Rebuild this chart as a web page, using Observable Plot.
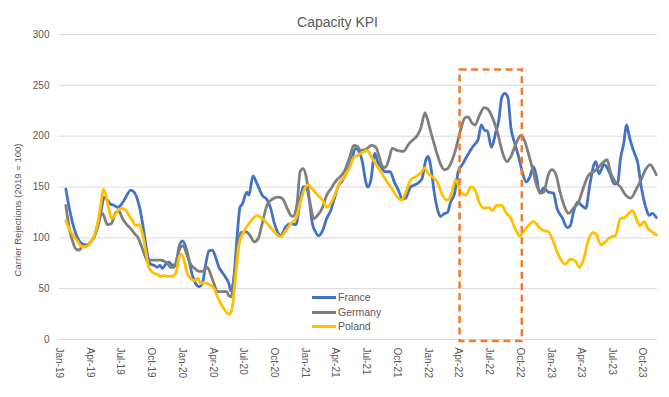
<!DOCTYPE html>
<html>
<head>
<meta charset="utf-8">
<script src="https://cdn.jsdelivr.net/npm/d3@7"></script>
<script src="https://cdn.jsdelivr.net/npm/@observablehq/plot@0.6"></script>
<style>
  html, body { margin: 0; padding: 0; background: #fff; }
  #wrap { position: relative; width: 669px; height: 397px; font-family: "Liberation Sans", Arial, sans-serif; }
  #legend { position: absolute; left: 312px; top: 290px; font-size: 10.5px; color: #595959; }
  #legend .row { position: absolute; left: 0; white-space: nowrap; height: 14px; line-height: 14px; }
  #legend .sw { position: absolute; left: 0; top: 6px; width: 24px; height: 3px; }
  #legend .lab { position: absolute; left: 26px; top: 0; }
  #ylab { position: absolute; left: 17px; top: 210px; width: 0; height: 0; }
  #ylab span { position: absolute; left: 0; top: 0; transform: translate(-50%, -50%) rotate(-90deg); white-space: nowrap; font-size: 9.5px; color: #595959; }
</style>
</head>
<body>
<div id="wrap"></div>
<script>
// ---- data (month offset from Jan-2019, value) ----
const tickLabels = ["Jan-19","Apr-19","Jul-19","Oct-19","Jan-20","Apr-20","Jul-20","Oct-20","Jan-21","Apr-21","Jul-21","Oct-21","Jan-22","Apr-22","Jul-22","Oct-22","Jan-23","Apr-23","Jul-23","Oct-23"];
const yTicks = [0, 50, 100, 150, 200, 250, 300];
const seriesNames = ["France", "Germany", "Poland"];
const seriesColors = ["#4472C4", "#7F7F7F", "#FFC000"];

const france = [[0.62,148],[0.94,130],[1.27,115],[1.6,104],[1.92,97],[2.25,94],[2.73,93],[3.06,96],[3.38,101],[3.71,112],[4.03,125],[4.36,140],[4.68,137],[5.01,133],[5.33,132],[5.66,130],[5.98,132],[6.31,137],[6.64,143],[6.96,147],[7.29,145],[7.61,138],[7.87,128],[8.1,115],[8.42,94],[8.68,79],[8.91,74],[9.24,73],[9.56,71],[9.82,73],[10.05,70],[10.38,74],[10.7,76],[11.03,73],[11.35,74],[11.68,91],[12.0,97],[12.33,91],[12.65,78],[12.98,63],[13.3,55],[13.63,52],[13.95,55],[14.28,74],[14.6,87],[14.93,88],[15.25,81],[15.58,71],[15.9,66],[16.23,61],[16.55,55],[16.72,48],[16.98,56],[17.37,104],[17.63,130],
  [17.85,133],[18.3,145],[18.5,142],[18.9,161],[19.3,153],[19.8,142],[20.3,137],[20.6,130],[21.0,114],[21.4,104],[21.6,102],[22.1,111],[22.6,114],[23.1,113],[23.5,137],[23.8,150],[24.1,150],[24.4,137],[24.7,114],[25.0,106],[25.3,102],[25.7,107],[26.1,119],[26.5,127],[26.8,137],[27.2,150],[27.6,156],[28.0,163],[28.6,179],[28.9,188],[29.2,186],[29.6,174],[29.9,156],[30.1,150],[30.4,156],[30.8,183],[31.1,174],[31.4,170],[31.8,165],[32.3,165],[32.7,155],[33.1,147],
  [33.5,138],[33.8,139],[34.3,150],[34.9,153],[35.4,158],[35.8,177],[36.0,180],[36.3,168],[36.6,145],[36.9,129],[37.2,121],[37.6,124],[37.9,125],[38.2,135],[38.6,144],[38.95,165],[39.4,173],[39.9,182],[40.4,190],[40.9,197],[41.2,211],[41.5,206],[41.8,205],[42.2,189],[42.6,203],[42.9,215],[43.2,238],[43.5,242],[43.8,238],[44.1,208],[44.5,192],[44.9,178],[45.2,165],[45.6,155],[45.95,160],[46.3,170],[46.6,160],[46.9,144],[47.3,149],[47.75,145],[48.25,144],[48.6,129],[49.1,120],[49.6,110],[49.9,112],[50.2,125],[50.6,135],[51.0,132],[51.4,129],[51.8,152],[52.2,172],[52.4,175],[52.7,163],[53.2,172],[53.7,165],[54.2,153],[54.5,153],[54.8,178],[55.1,192],[55.4,211],[55.7,198],[56.1,185],[56.5,173],[56.8,152],[57.3,129],[57.6,122],[57.9,124],[58.3,120]];

const germany = [[0.62,132],[0.94,110],[1.27,97],[1.6,89],[1.92,88],[2.25,92],[2.73,93],[3.06,96],[3.38,101],[3.71,110],[4.03,122],[4.2,124],[4.68,113],[5.07,114],[5.5,125],[5.82,126],[6.15,119],[6.57,113],[6.96,109],[7.35,104],[7.68,100],[8.0,92],[8.33,83],[8.65,76],[8.91,78],[9.24,78],[9.56,78],[9.89,78],[10.21,77],[10.54,75],[10.86,71],[11.19,71],[11.51,81],[11.84,91],[12.1,92],[12.42,84],[12.81,74],[13.2,70],[13.63,67],[14.05,67],[14.44,71],[14.77,64],[15.09,55],[15.42,47],[15.9,47],[16.33,47],[16.55,43],[16.78,42],[17.04,61],[17.43,94],
  [17.7,105],[18.2,106],[18.7,101],[19.0,96],[19.4,99],[19.8,114],[20.3,133],[20.8,138],[21.3,140],[21.75,139],[22.2,130],[22.6,122],[22.8,121],[23.2,133],[23.5,165],[23.8,168],[24.1,160],[24.5,133],[24.85,119],[25.2,122],[25.7,130],[26.1,142],[26.5,148],[27.0,156],[27.4,160],[27.8,165],[28.3,178],[28.75,191],[29.1,190],[29.4,186],[29.9,187],[30.5,191],[30.9,189],[31.2,181],[31.5,171],[31.8,169],[32.2,178],[32.5,188],[33.0,186],
  [33.6,185],[34.1,192],[34.6,197],[34.9,200],[35.3,208],[35.7,223],[35.9,218],[36.3,203],[36.75,187],[37.2,173],[37.6,167],[37.9,168],[38.3,175],[38.7,187],[39.1,203],[39.6,218],[39.9,219],[40.3,213],[40.6,211],[41.0,220],[41.5,228],[41.8,227],[42.3,218],[42.8,203],[43.3,183],[43.7,175],[44.1,180],[44.6,193],[45.1,201],[45.45,195],[45.8,183],[46.2,168],[46.6,152],[47.0,144],[47.3,145],[47.75,162],[48.1,167],[48.5,162],[48.9,145],[49.4,129],[49.7,124],[50.2,129],[50.7,135],[51.2,150],[51.7,162],[52.2,165],[52.7,170],[53.2,175],[53.5,177],[53.8,165],[54.3,155],[54.8,150],[55.3,142],[55.8,139],[56.3,147],[56.8,157],[57.3,168],[57.7,172],[58.0,168],[58.3,162]];

const poland = [[0.62,117],[0.94,109],[1.43,101],[1.76,97],[2.08,92],[2.41,91],[2.73,92],[3.06,96],[3.38,102],[3.71,114],[4.03,132],[4.29,148],[4.52,142],[4.85,127],[5.07,119],[5.4,122],[5.82,128],[6.15,129],[6.47,127],[6.8,122],[7.12,117],[7.45,112],[7.77,113],[8.1,104],[8.42,87],[8.65,73],[8.91,68],[9.24,65],[9.56,64],[9.89,62],[10.21,63],[10.54,62],[10.86,62],[11.19,63],[11.45,68],[11.68,81],[11.9,84],[12.16,78],[12.49,65],[12.81,60],[13.2,58],[13.53,60],[13.79,55],[14.12,56],[14.44,55],[14.83,53],[15.16,49],[15.42,42],[15.74,36],[16.07,30],[16.4,26],[16.65,25],[16.88,32],[17.2,61],[17.53,93],
  [18.0,106],[18.5,114],[19.0,120],[19.3,122],[19.8,119],[20.3,114],[20.9,107],[21.6,101],[22.1,107],[22.6,114],[23.1,119],[23.5,134],[23.9,147],[24.3,152],[24.7,148],[25.2,142],[25.7,137],[26.1,130],[26.5,134],[27.0,145],[27.3,153],[27.8,160],[28.3,168],[28.75,179],[29.1,181],[29.6,184],[30.05,186],[30.5,179],[31.0,171],[31.5,163],[32.0,155],[32.5,148],[33.0,140],
  [33.4,137],[33.8,144],[34.3,157],[34.8,160],[35.3,164],[35.7,169],[35.9,165],[36.4,160],[36.9,155],[37.4,142],[37.9,137],[38.3,144],[38.7,157],[39.2,145],[39.7,142],[40.2,150],[40.6,147],[41.0,135],[41.5,129],[41.9,130],[42.3,127],[42.7,132],[43.2,132],[43.6,125],[44.1,119],[44.6,107],[44.96,102],[45.4,107],[45.8,112],[46.3,116],[46.8,111],[47.3,107],[47.75,106],[48.25,96],[48.7,84],[49.4,74],[49.9,79],[50.4,77],[50.8,71],[51.2,79],[51.7,99],[52.1,105],[52.4,104],[52.9,93],[53.4,97],[53.9,101],[54.3,102],[54.8,119],[55.2,120],[55.6,124],[55.97,127],[56.4,117],[56.7,112],[57.1,116],[57.5,109],[58.0,105],[58.3,103]];

const highlightStart = "2022-04-06";
const highlightEnd = "2022-10-08";
const highlightLow = -2;
const highlightHigh = 265;

// ---- build ----
const t0 = Date.UTC(2019, 0, 1);
const toDate = m => new Date(t0 + m * 30.4375 * 864e5);
const parseTick = d3.utcParse("%b-%y");
const tickDates = tickLabels.map(parseTick);
const seriesData = [france, germany, poland].map(s => s.map(([m, v]) => ({date: toDate(m), value: v})));

const xDomain = [new Date(t0), new Date(Date.UTC(2023, 10, 14))];

const chart = Plot.plot({
  width: 669,
  height: 397,
  marginLeft: 59,
  marginRight: 12,
  marginTop: 34,
  marginBottom: 58,
  style: {fontFamily: "'Liberation Sans', Arial, sans-serif", fontSize: "10px", color: "#595959", background: "#fff"},
  x: {type: "utc", domain: xDomain, label: null},
  y: {domain: [0, 300], label: null},
  marks: [
    Plot.gridY(yTicks, {stroke: "#D9D9D9", strokeOpacity: 1, strokeWidth: 1}),
    Plot.axisY(yTicks, {tickSize: 0, tickPadding: 10, fontSize: 10, fill: "#595959"}),
    Plot.axisX(tickDates, {tickSize: 0, tickPadding: 8, tickRotate: 90, tickFormat: (d, i) => tickLabels[i], fontSize: 10, fill: "#595959"}),
    ...seriesData.map((d, i) => Plot.line(d, {x: "date", y: "value", stroke: seriesColors[i], strokeWidth: 2.8, curve: "monotone-x", strokeLinejoin: "round"})),
    Plot.rect([{s: new Date(highlightStart), e: new Date(highlightEnd)}], {x1: "s", x2: "e", y1: () => highlightLow, y2: () => highlightHigh, fill: "none", stroke: "#ED7D31", strokeWidth: 2.5, strokeDasharray: "7,4.5"}),
    Plot.text(["Capacity KPI"], {frameAnchor: "top", dx: -21, dy: -17, fontSize: 14, fill: "#595959"})
  ]
});

const wrap = document.getElementById("wrap");
wrap.appendChild(chart);

const ylab = document.createElement("div");
ylab.id = "ylab";
ylab.innerHTML = "<span>Carrier Rejections (2019 = 100)</span>";
wrap.appendChild(ylab);

const legend = document.createElement("div");
legend.id = "legend";
seriesNames.forEach((name, i) => {
  const row = document.createElement("div");
  row.className = "row";
  row.style.top = (i * 14.5) + "px";
  row.innerHTML = `<span class="sw" style="background:${seriesColors[i]}"></span><span class="lab">${name}</span>`;
  legend.appendChild(row);
});
wrap.appendChild(legend);
</script>
</body>
</html>
